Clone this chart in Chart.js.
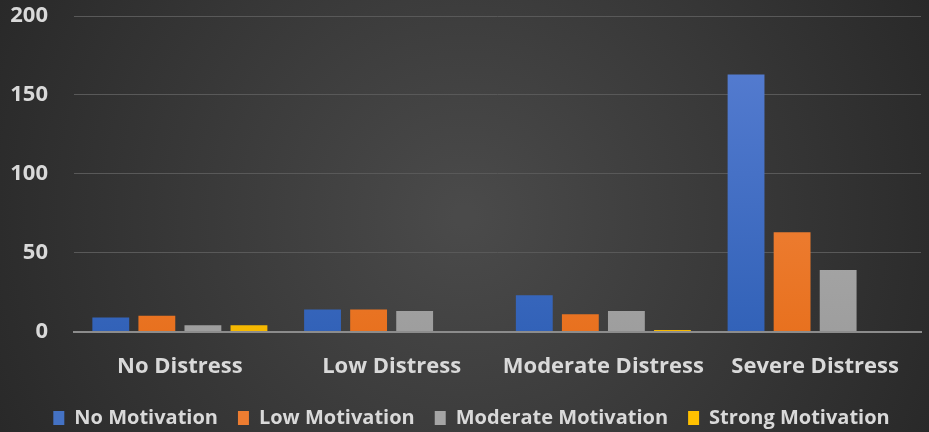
<!DOCTYPE html>
<html><head><meta charset="utf-8">
<script src="https://cdn.jsdelivr.net/npm/chart.js@4.4.0/dist/chart.umd.min.js"></script>
<style>html,body{margin:0;padding:0;background:#2b2b2b}#wrap{width:929px;height:432px}</style>
</head><body><div id="wrap"><canvas id="c" width="929" height="432"></canvas></div>
<script>
const categories = ["No Distress", "Low Distress", "Moderate Distress", "Severe Distress"];
const noMotivation = [9, 14, 23, 163];
const lowMotivation = [10, 14, 11, 63];
const moderateMotivation = [4, 13, 13, 39];
const strongMotivation = [4, 0, 1, 0];
const yTicks = [0, 50, 100, 150, 200];

function grad(top, bottom) {
  return (ctx) => {
    const ca = ctx.chart.chartArea;
    if (!ca) return bottom;
    const g = ctx.chart.ctx.createLinearGradient(0, ca.top, 0, ca.bottom);
    g.addColorStop(0, top); g.addColorStop(1, bottom);
    return g;
  };
}

const bgPlugin = {
  id: 'bg',
  beforeDraw(chart) {
    const c = chart.ctx, w = chart.width, h = chart.height;
    const g = c.createRadialGradient(w * 0.5, h * 0.5, 10, w * 0.5, h * 0.5, w * 0.6);
    g.addColorStop(0, '#4a4a4a');
    g.addColorStop(1, '#262626');
    c.save(); c.fillStyle = g; c.fillRect(0, 0, w, h); c.restore();
  },
  afterLayout(chart) {
    const lg = chart.legend;
    if (lg) {
      lg.top -= 14; lg.bottom = chart.height;
      lg.left += 11; lg.right += 11;
    }
  }
};

const font = "'Open Sans', 'Liberation Sans', sans-serif";

new Chart(document.getElementById('c'), {
  type: 'bar',
  data: {
    labels: categories,
    datasets: [
      { label: 'No Motivation', data: noMotivation, backgroundColor: grad('#5a80d4', '#3262b8') },
      { label: 'Low Motivation', data: lowMotivation, backgroundColor: grad('#f5904f', '#e8711f') },
      { label: 'Moderate Motivation', data: moderateMotivation, backgroundColor: grad('#b5b5b5', '#9e9e9e') },
      { label: 'Strong Motivation', data: strongMotivation, backgroundColor: grad('#ffd030', '#f5b800') }
    ]
  },
  options: {
    responsive: false,
    animation: false,
    devicePixelRatio: 1,
    layout: { padding: { left: 0, right: 8, top: 16, bottom: 0 } },
    datasets: { bar: { categoryPercentage: 0.87, barPercentage: 0.8 } },
    scales: {
      x: {
        grid: { display: false, drawTicks: false },
        border: { color: '#8c8c8c', width: 2 },
        afterFit(axis) { axis.paddingLeft = 0; axis.paddingRight = 0; },
        ticks: { color: '#d9d9d9', font: { family: font, size: 22, weight: 'bold' }, padding: 22, maxRotation: 0, minRotation: 0, autoSkip: false }
      },
      y: {
        min: 0, max: 200,
        afterBuildTicks(axis) { axis.ticks = yTicks.map(v => ({ value: v })); },
        afterFit(axis) { axis.paddingTop = 0; axis.paddingBottom = 0; axis.width = 74; },
        grid: { color: '#595959', lineWidth: 1, drawTicks: false },
        border: { display: false },
        ticks: { color: '#d9d9d9', font: { family: font, size: 22, weight: 'bold' }, padding: 26 }
      }
    },
    plugins: {
      legend: {
        position: 'bottom',
        maxHeight: 30,
        labels: {
          color: '#d9d9d9',
          font: { family: font, size: 20, weight: 'bold' },
          boxWidth: 11, boxHeight: 14, padding: 20,
          generateLabels(chart) {
            const cols = ['#4472c4', '#ed7d31', '#a5a5a5', '#ffc000'];
            return chart.data.datasets.map((d, i) => ({ text: d.label, fillStyle: cols[i], strokeStyle: cols[i], lineWidth: 0, fontColor: '#d9d9d9', datasetIndex: i }));
          }
        }
      },
      tooltip: { enabled: false }
    }
  },
  plugins: [bgPlugin]
});
</script></body></html>
